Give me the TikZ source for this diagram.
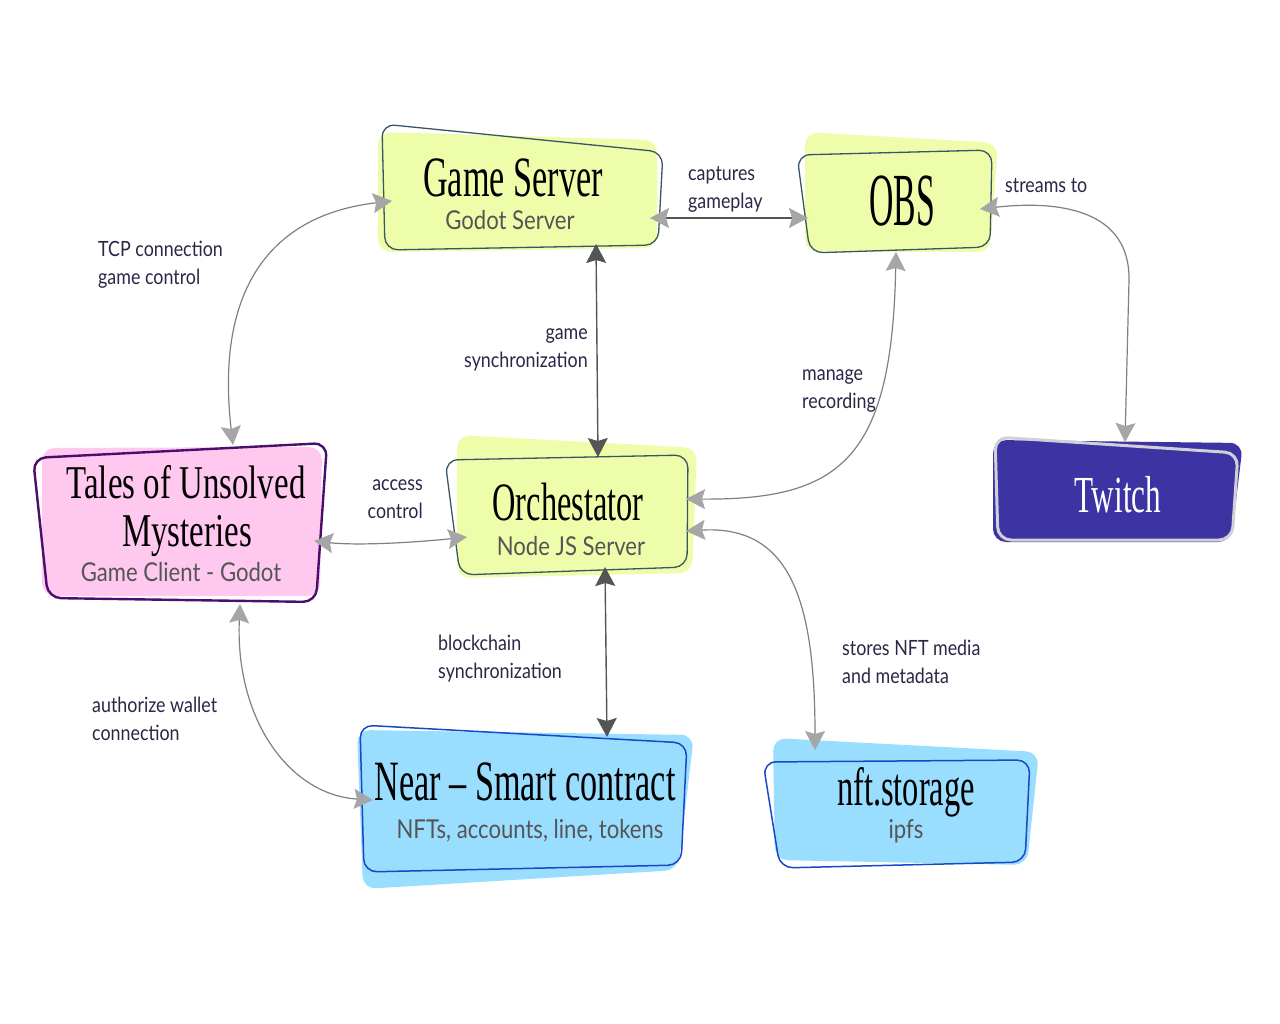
\documentclass[tikz,border=0pt]{standalone}
\usepackage{fontspec}
\usetikzlibrary{arrows.meta}
\newfontfamily\titlefont[FakeStretch=0.6]{Liberation Serif}
\newfontfamily\talesfont[FakeStretch=0.7]{Liberation Serif}
\newfontfamily\obsfont[FakeStretch=0.45]{Liberation Serif}
\newfontfamily\subfont[FakeStretch=0.85]{Lato}
\definecolor{yfill}{HTML}{EEFDAA}
\definecolor{yline}{HTML}{3B5566}
\definecolor{pfill}{HTML}{FFC8EE}
\definecolor{pline}{HTML}{4B0E6E}
\definecolor{bfill}{HTML}{99DDFF}
\definecolor{bline}{HTML}{1A47C8}
\definecolor{tfill}{HTML}{3D33A3}
\definecolor{tline}{HTML}{D0D0D6}
\definecolor{subc}{HTML}{555555}
\definecolor{lblc}{HTML}{2A2748}
\definecolor{connc}{HTML}{808080}
\definecolor{tipc}{HTML}{A6A6A6}
\definecolor{darkc}{HTML}{555555}
\tikzset{
  shapefill/.style={rounded corners=13pt},
  shapeline/.style={rounded corners=13pt, line width=1.3pt},
  ttl/.style={font=\titlefont\fontsize{57}{57}\selectfont, text=black, inner sep=0pt, anchor=base},
  sub/.style={font=\subfont\fontsize{26}{26}\selectfont, text=subc, inner sep=0pt, anchor=base},
  lbl/.style={font=\subfont\fontsize{21}{28}\selectfont, text=lblc, inner sep=0pt},
  tipL/.tip={Stealth[length=19pt,width=20pt,inset=3pt,color=tipc]},
  tipD/.tip={Stealth[length=19pt,width=20pt,inset=3pt,color=darkc]},
  conn/.style={draw=connc, line width=1.2pt, tipL-tipL},
  dconn/.style={draw=darkc, line width=1.4pt, tipD-tipD},
}
\begin{document}
\begin{tikzpicture}[x=1pt,y=-1pt]
\useasboundingbox (0,0) rectangle (1280,1024);
\fill[white] (0,0) rectangle (1280,1024);

% ---- Game Server
\fill[yfill, shapefill] (378,132) -- (657,140) -- (657,248) -- (378,252) -- cycle;
\draw[yline, shapeline] (382,124) -- (663,152) -- (658,245) -- (385,250) -- cycle;
\node[ttl] (gs) at (513,197) {Game Server};
\node[sub] (gssub) at (510,230) {Godot Server};

% ---- OBS
\fill[yfill, shapefill] (805,132) -- (998,143) -- (990,252) -- (805,252) -- cycle;
\draw[yline, shapeline] (797,155) -- (992,150) -- (990,247) -- (810,253) -- cycle;
\node[ttl, font=\obsfont\fontsize{75}{75}\selectfont] (obs) at (902,226) {OBS};

% ---- Tales
\fill[pfill, shapefill] (42,448) -- (322,447) -- (320,596) -- (42,596) -- cycle;
\draw[pline, shapeline, line width=2.4pt] (33,458) -- (327,443) -- (316,602) -- (48,598) -- cycle;
\node[ttl, font=\talesfont\fontsize{47}{47}\selectfont] (tl) at (186,498) {Tales of Unsolved};
\node[ttl, font=\talesfont\fontsize{47}{47}\selectfont] (tl2) at (187,546) {Mysteries};
\node[sub] (tlsub) at (181,581) {Game Client - Godot};

% ---- Orchestator
\fill[yfill, shapefill] (457,435) -- (697,448) -- (692,573) -- (457,578) -- cycle;
\draw[yline, shapeline] (445,460) -- (688,455) -- (687,567) -- (460,575) -- cycle;
\node[ttl, font=\titlefont\fontsize{54}{54}\selectfont] (or) at (568,520) {Orchestator};
\node[sub] (orsub) at (571,555) {Node JS Server};

% ---- Twitch
\fill[tfill, shapefill] (993,440) -- (1243,443) -- (1231,542) -- (993,542) -- cycle;
\draw[tline, shapeline, line width=3pt] (995,437) -- (1238,453) -- (1232,540) -- (998,540) -- cycle;
\node[ttl, text=white, font=\titlefont\fontsize{52}{52}\selectfont] (tw) at (1118,512) {Twitch};

% ---- Near
\fill[bfill, shapefill] (357,730) -- (694,735) -- (678,870) -- (363,889) -- cycle;
\draw[bline, shapeline, line width=1.5pt] (360,725) -- (687,743) -- (681,865) -- (364,872) -- cycle;
\node[ttl] (nr) at (525,800) {Near – Smart contract};
\node[sub] (nrsub) at (530,838) {NFTs, accounts, line, tokens};

% ---- nft.storage
\fill[bfill, shapefill] (773,738) -- (1039,752) -- (1027,865) -- (775,860) -- cycle;
\draw[bline, shapeline, line width=1.5pt] (763,762) -- (1030,760) -- (1025,862) -- (780,868) -- cycle;
\node[ttl, font=\titlefont\fontsize{54}{54}\selectfont] (nf) at (906,805) {nft.storage};
\node[sub] (nfsub) at (906,838) {ipfs};

% ---- connector ends
\coordinate (gs-w) at (392,201);
\coordinate (gs-e) at (650,218);
\coordinate (gs-s) at (596,244);
\coordinate (obs-w) at (808,218);
\coordinate (obs-s) at (896,252);
\coordinate (obs-e) at (980,209);
\coordinate (tl-n) at (233,445);
\coordinate (tl-e) at (314,541);
\coordinate (tl-s) at (240,604);
\coordinate (or-n) at (598,457);
\coordinate (or-w) at (467,537);
\coordinate (or-e1) at (686,499);
\coordinate (or-e2) at (686,531);
\coordinate (or-s) at (605,567);
\coordinate (tw-n) at (1125,442);
\coordinate (nr-n) at (607,737);
\coordinate (nr-w) at (373,800);
\coordinate (nf-n) at (815,750);

% ---- connectors
\draw[conn] (tl-n) .. controls (215,290) and (270,215) .. (gs-w);
\draw[conn, draw=darkc] (gs-e) -- (obs-w);
\draw[dconn] (gs-s) -- (or-n);
\draw[conn] (obs-s) .. controls (892,460) and (840,500) .. (or-e1);
\draw[conn] (obs-e) .. controls (1060,200) and (1130,210) .. (1129,280) -- (tw-n);
\draw[conn] (tl-e) .. controls (360,546) and (420,542) .. (or-w);
\draw[dconn] (or-s) -- (nr-n);
\draw[conn] (or-e2) .. controls (790,525) and (815,600) .. (nf-n);
\draw[conn] (tl-s) .. controls (235,720) and (290,795) .. (nr-w);

% ---- labels
\node[lbl, anchor=north west, align=left] (ltcp) at (98,241) {TCP connection\\game control};
\node[lbl, anchor=north west, align=left] (lcap) at (688,166) {captures\\gameplay};
\node[lbl, anchor=north east, align=right] (lsync) at (588,328) {game\\synchronization};
\node[lbl, anchor=north west, align=left] (lstr) at (1005,178) {streams to};
\node[lbl, anchor=north west, align=left] (lman) at (802,369) {manage\\recording};
\node[lbl, anchor=north east, align=right] (lacc) at (423,479) {access\\control};
\node[lbl, anchor=north west, align=left] (lblk) at (438,635) {blockchain\\synchronization};
\node[lbl, anchor=north west, align=left] (lsto) at (842,640) {stores NFT media\\and metadata};
\node[lbl, anchor=north west, align=left] (lauth) at (92,697) {authorize wallet\\connection};
\end{tikzpicture}
\end{document}
